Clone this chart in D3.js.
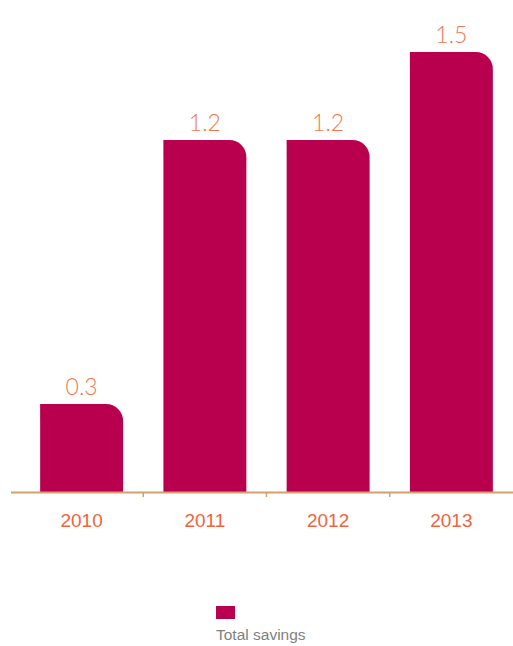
<!DOCTYPE html>
<html><head><meta charset="utf-8">
<script src="https://cdn.jsdelivr.net/npm/d3@7"></script>
<style>body{margin:0;background:#fff}svg{display:block}</style>
</head><body>
<script>
const categories = ["2010","2011","2012","2013"];
const values = [0.3, 1.2, 1.2, 1.5];
const valueLabels = ["0.3","1.2","1.2","1.5"];
const seriesName = "Total savings";

const W = 513, H = 646;
const svg = d3.select("body").append("svg").attr("width", W).attr("height", H);
const x = d3.scaleBand().domain(categories).range([20, 513]).paddingInner(0.327).paddingOuter(0.1635);
const y = d3.scaleLinear().domain([0, 1.5]).range([492, 52]);
const barColor = "#b8004e";
const axisColor = "#d4a06e";
const r = 17;

function barPath(x0, w, yTop, yBot) {
  const rr = Math.min(r, w, yBot - yTop);
  return `M${x0},${yBot}V${yTop}H${x0 + w - rr}A${rr},${rr} 0 0 1 ${x0 + w},${yTop + rr}V${yBot}Z`;
}

svg.selectAll("path.bar").data(categories).join("path")
  .attr("class","bar")
  .attr("fill", barColor)
  .attr("d", (c,i) => barPath(x(c), x.bandwidth(), y(values[i]), y(0)));

// axis
svg.append("line").attr("x1", 11).attr("x2", 513).attr("y1", y(0)+0.5).attr("y2", y(0)+0.5)
  .attr("stroke", axisColor).attr("stroke-width", 2);
const step = x.step();
svg.selectAll("line.tick").data(categories.slice(1)).join("line")
  .attr("class","tick")
  .attr("x1", c => x(c) - (step - x.bandwidth())/2).attr("x2", c => x(c) - (step - x.bandwidth())/2)
  .attr("y1", y(0)).attr("y2", y(0)+5)
  .attr("stroke", axisColor).attr("stroke-width", 1.5);

svg.selectAll("text.cat").data(categories).join("text")
  .attr("class","cat")
  .attr("x", c => x(c) + x.bandwidth()/2)
  .attr("y", 527)
  .attr("text-anchor","middle")
  .attr("font-family","Arial, 'Liberation Sans', sans-serif")
  .attr("font-size", 19)
  .attr("fill","#f0643c")
  .text(d => d);

svg.selectAll("text.val").data(categories).join("text")
  .attr("class","val")
  .attr("x", c => x(c) + x.bandwidth()/2)
  .attr("y", (c,i) => y(values[i]) - 9)
  .attr("text-anchor","middle")
  .attr("font-family","Lato, 'Open Sans', sans-serif")
  .attr("font-weight", 300)
  .attr("font-size", 23)
  .attr("fill","#f07a50")
  .text((c,i) => valueLabels[i]);

// legend
svg.append("rect").attr("x", 216).attr("y", 606).attr("width", 19).attr("height", 13).attr("fill", barColor);
svg.append("text").attr("x", 216).attr("y", 640)
  .attr("font-family","Arial, 'Liberation Sans', sans-serif")
  .attr("font-size", 15.5).attr("fill","#7f7f7f").text(seriesName);
</script>
</body></html>
